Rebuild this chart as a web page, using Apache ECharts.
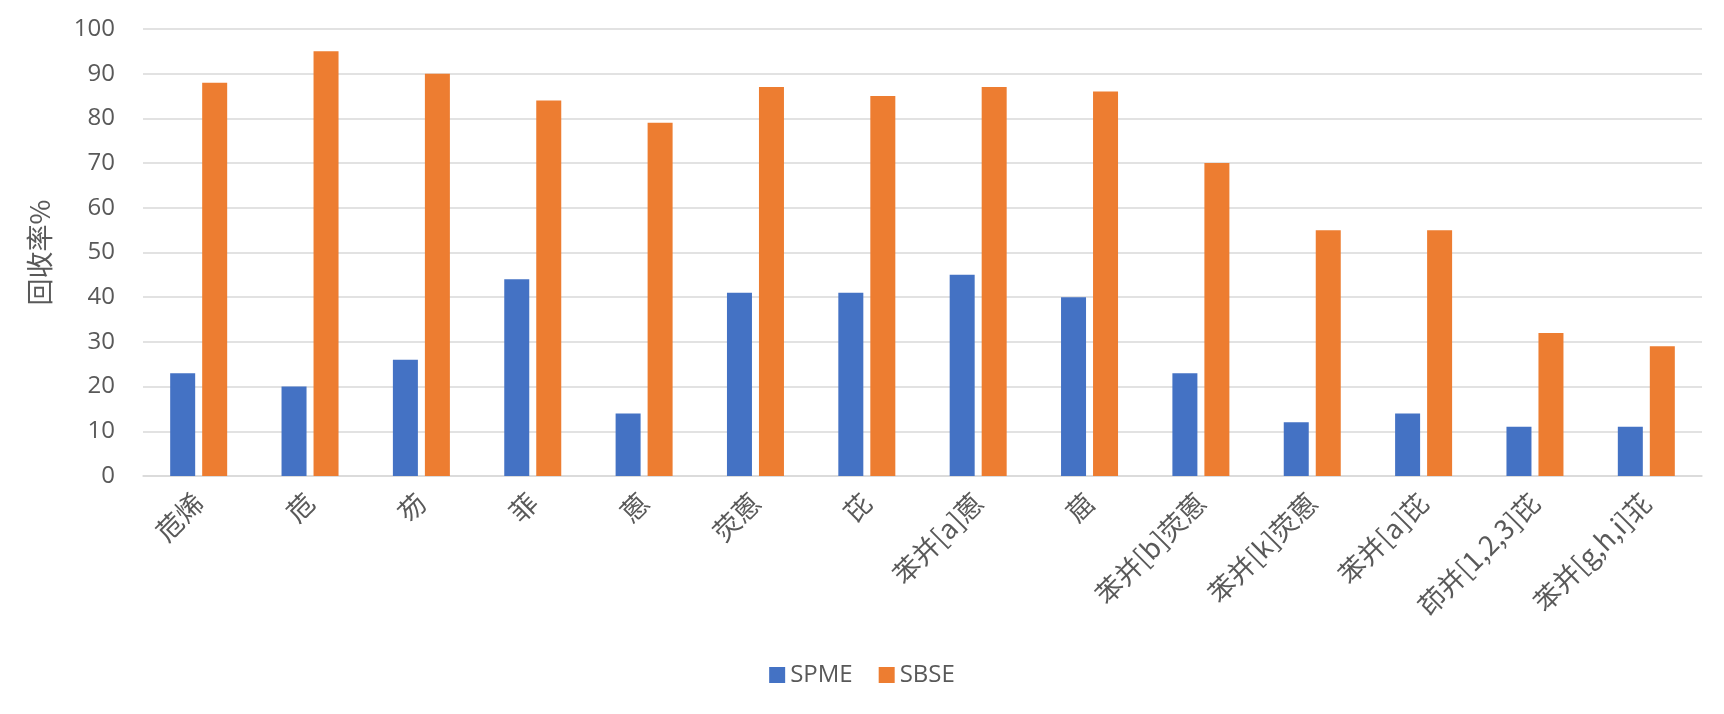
<!DOCTYPE html>
<html><head><meta charset="utf-8">
<script src="https://cdn.jsdelivr.net/npm/echarts@6/dist/echarts.min.js"></script>
<style>html,body{margin:0;padding:0;background:#fff}#c{width:1724px;height:714px}</style>
</head><body><div id="c"></div>
<script>
const categories = ['苊烯','苊','芴','菲','蒽','荧蒽','芘','苯并[a]蒽','䓛','苯并[b]荧蒽','苯并[k]荧蒽','苯并[a]芘','茚并[1,2,3]芘','苯并[g,h,i]苝'];
const spme = [23,20,26,44,14,41,41,45,40,23,12,14,11,11];
const sbse = [88,95,90,84,79,87,85,87,86,70,55,55,32,29];
const yTicks = [0,10,20,30,40,50,60,70,80,90,100];
const font = '"Noto Sans CJK SC","Open Sans",sans-serif';
const chart = echarts.init(document.getElementById('c'));
chart.setOption({
  animation:false,
  textStyle:{fontFamily:font},
  grid:{left:143,right:22,top:29,bottom:238,containLabel:false},
  legend:{bottom:22,left:'center',itemWidth:16,itemHeight:16,itemGap:26,icon:'rect',
    textStyle:{fontSize:24,color:'#595959',fontFamily:'"Open Sans",sans-serif'},
    data:['SPME','SBSE']},
  xAxis:{type:'category',data:categories,
    axisLine:{lineStyle:{color:'#D9D9D9',width:1.5}},axisTick:{show:false},
    axisLabel:{rotate:45,fontSize:27,color:'#595959',interval:0,margin:22,fontFamily:font}},
  yAxis:{type:'value',min:0,max:100,interval:10,
    name:'回收率%',nameLocation:'middle',nameGap:90,nameRotate:90,
    nameTextStyle:{fontSize:27,color:'#595959',fontFamily:font},
    axisLabel:{fontSize:24,color:'#595959',margin:28,fontFamily:'"Open Sans",sans-serif',
      formatter:v=>yTicks.includes(v)?String(v):''},
    axisLine:{show:false},axisTick:{show:false},
    splitLine:{lineStyle:{color:'#D9D9D9',width:1.5}}},
  series:[
    {name:'SPME',type:'bar',data:spme,barWidth:25,barGap:'28%',itemStyle:{color:'#4472C4'}},
    {name:'SBSE',type:'bar',data:sbse,barWidth:25,itemStyle:{color:'#ED7D31'}}
  ]
});
</script></body></html>
